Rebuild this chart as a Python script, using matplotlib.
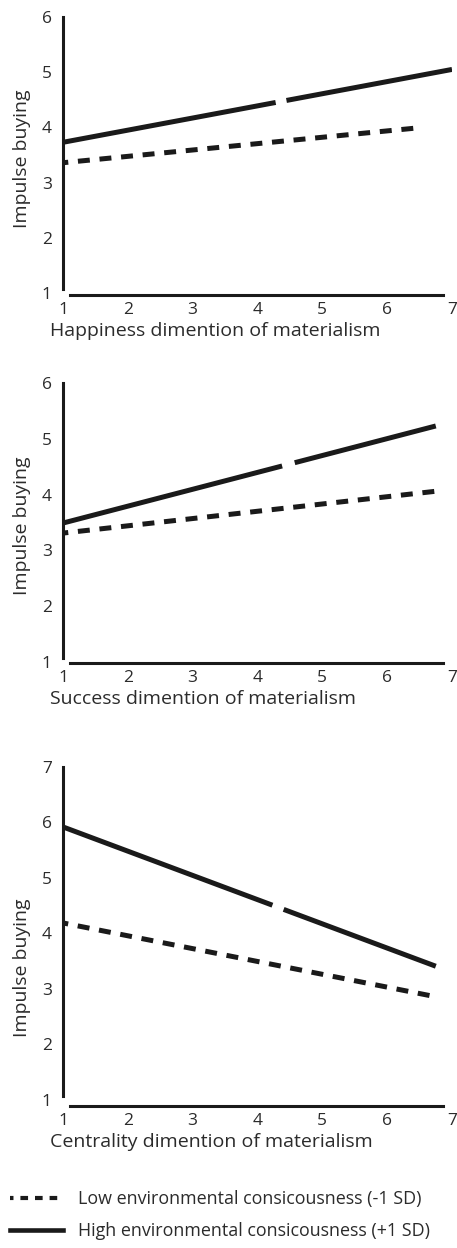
import matplotlib.pyplot as plt
from matplotlib.lines import Line2D

plt.rcParams['font.family'] = ['Open Sans', 'DejaVu Sans']
plt.rcParams['lines.scale_dashes'] = False

# Data
x_ticks = [1, 2, 3, 4, 5, 6, 7]

happiness_x_high = [1, 7]
happiness_high = [3.73, 5.05]
happiness_x_low = [1, 6.55]
happiness_low = [3.36, 4.0]

success_x = [1, 6.75]
success_high = [3.49, 5.23]
success_low = [3.31, 4.06]

centrality_x = [1, 6.75]
centrality_high = [5.92, 3.41]
centrality_low = [4.19, 2.86]

xlabels = ['Happiness dimention of materialism',
           'Success dimention of materialism',
           'Centrality dimention of materialism']
legend_labels = ['Low environmental consicousness (-1 SD)',
                 'High environmental consicousness (+1 SD)']

DPI = 100
W, H = 457, 1248
ink = '#1a1a1a'
text_col = '#2b2b2b'
fs = 12.5
lab_fs = 14

fig = plt.figure(figsize=(W / DPI, H / DPI), dpi=DPI)

# panel layout in pixels: (top px, bottom px, ylim, ylabel y frac, gap start x, gap px)
panels = [
    (17, 295.2, (0.96, 6), 0.49, 4.28, 11,
     happiness_x_high, happiness_high, happiness_x_low, happiness_low),
    (383, 663.1, (0.98, 6), 0.49, 4.38, 13,
     success_x, success_high, success_x, success_low),
    (767, 1106.1, (0.89, 7), 0.407, 4.23, 12,
     centrality_x, centrality_high, centrality_x, centrality_low),
]

left_px, right_px = 63, 452

for i, (top, bot, ylim, ylab_y, gap_x, gap_px, xh, yh, xl, yl) in enumerate(panels):
    ax = fig.add_axes([left_px / W, (H - bot) / H,
                       (right_px - left_px) / W, (bot - top) / H])
    ax.set_xlim(1, 7)
    ax.set_ylim(*ylim)

    # dashed low line
    ax.plot(xl, yl, color=ink, lw=3.6, solid_capstyle='butt',
            dash_capstyle='butt', linestyle=(4.8, (8.6, 7.0)))

    # solid high line with a small break, done through a dash pattern
    line, = ax.plot(xh, yh, color=ink, lw=3.6, solid_capstyle='butt',
                    dash_capstyle='butt')
    p0 = ax.transData.transform((xh[0], yh[0]))
    p1 = ax.transData.transform((xh[1], yh[1]))
    length_pt = ((p1 - p0) ** 2).sum() ** 0.5 * 72 / DPI
    frac = (gap_x - xh[0]) / (xh[1] - xh[0])
    line.set_linestyle((0, (frac * length_pt, gap_px * 72 / DPI,
                            length_pt * 2, 1)))

    for side in ['top', 'right']:
        ax.spines[side].set_visible(False)
    ax.spines['left'].set_bounds(1.08, ylim[1])
    ax.spines['bottom'].set_bounds(1.11, 6.86)
    for side in ['left', 'bottom']:
        ax.spines[side].set_linewidth(2.2)
        ax.spines[side].set_color(ink)

    ax.set_xticks(x_ticks)
    ax.set_yticks(range(1, int(ylim[1]) + 1))
    ax.tick_params(axis='both', length=0, labelsize=fs, labelcolor=text_col)
    ax.tick_params(axis='y', pad=8)
    ax.tick_params(axis='x', pad=5)

    ax.set_ylabel('Impulse buying', fontsize=lab_fs, color=text_col, va='center')
    ax.yaxis.set_label_coords(-(63 - 22) / (right_px - left_px), ylab_y)
    ax.set_xlabel(xlabels[i], fontsize=lab_fs, color=text_col,
                  ha='left', va='center')
    ax.xaxis.set_label_coords(-(63 - 50) / (right_px - left_px),
                              -36 / (bot - top))

handles = [Line2D([], [], color=ink, lw=3, linestyle=(3, (5.5, 5))),
           Line2D([], [], color=ink, lw=3.3)]
fig.legend(handles, legend_labels, loc='upper left',
           bbox_to_anchor=(10 / W, (H - 1190) / H), frameon=False,
           fontsize=12.9, handlelength=2.95, handletextpad=0.85,
           borderpad=0, borderaxespad=0, labelspacing=0.78,
           labelcolor=text_col)

fig.savefig('out.png', dpi=DPI)
